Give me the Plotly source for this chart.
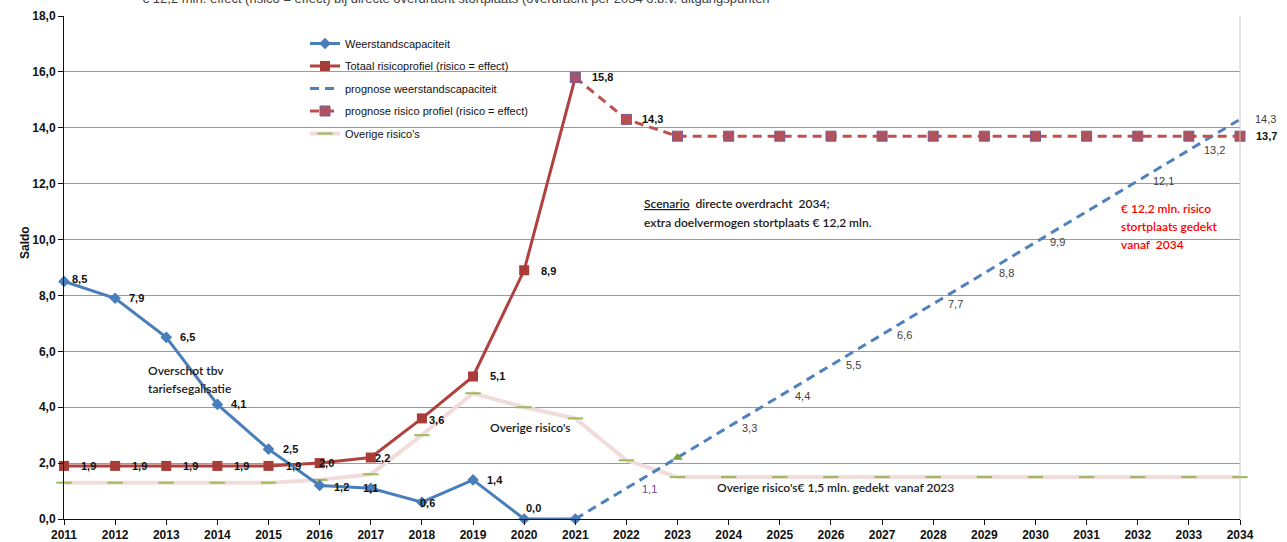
import plotly.graph_objects as go

# ---------------- data ----------------
years = list(range(2011, 2035))

wc_years = list(range(2011, 2022))
weerstandscapaciteit = [8.5, 7.9, 6.5, 4.1, 2.5, 1.2, 1.1, 0.6, 1.4, 0.0, 0.0]

rp_years = list(range(2011, 2022))
totaal_risicoprofiel = [1.9, 1.9, 1.9, 1.9, 1.9, 2.0, 2.2, 3.6, 5.1, 8.9, 15.8]

pw_years = list(range(2021, 2035))
prognose_weerstand = [0.0, 1.1, 2.2, 3.3, 4.4, 5.5, 6.6, 7.7, 8.8, 9.9, 11.0, 12.1, 13.2, 14.3]

pr_years = list(range(2021, 2035))
prognose_risico = [15.8, 14.3, 13.7, 13.7, 13.7, 13.7, 13.7, 13.7, 13.7, 13.7, 13.7, 13.7, 13.7, 13.7]

ov_years = list(range(2011, 2035))
overige_risicos = [1.3, 1.3, 1.3, 1.3, 1.3, 1.4, 1.6, 3.0, 4.5, 4.0, 3.6, 2.1,
                   1.5, 1.5, 1.5, 1.5, 1.5, 1.5, 1.5, 1.5, 1.5, 1.5, 1.5, 1.5]

# which points get a data label
wc_label_years = [2011, 2012, 2013, 2014, 2015, 2016, 2017, 2018, 2019, 2020]
rp_label_years = [2011, 2012, 2013, 2014, 2015, 2016, 2017, 2018, 2019, 2020, 2021]
pw_label_years = [2022, 2024, 2025, 2026, 2027, 2028, 2029, 2030, 2032, 2033, 2034]
pr_label_years = [2022, 2034]

# ---------------- layout geometry ----------------
W, H = 1287, 542
L, R, T, B = 64, 47, 16, 23
PW, PH = W - L - R, H - T - B

def px2paper(px, py):
    return (px - L) / PW, (H - B - py) / PH

FONT = "Liberation Sans, Arial, sans-serif"
NOTE_FONT = "Lato, Open Sans, sans-serif"

fig = go.Figure()

# Overige risico's (drawn first, at the back)
fig.add_trace(go.Scatter(
    x=ov_years, y=overige_risicos, name="Overige risico's", mode="lines+markers",
    line=dict(color="#f2dcdb", width=4),
    marker=dict(symbol="line-ew", size=11, color="#9bbb59",
                line=dict(color="#9bbb59", width=2)),
    legendrank=5, legendgroup="e", cliponaxis=False))

# Totaal risicoprofiel
fig.add_trace(go.Scatter(
    x=rp_years, y=totaal_risicoprofiel, name="Totaal risicoprofiel (risico = effect)",
    mode="lines+markers", line=dict(color="#b0413e", width=3),
    marker=dict(symbol="square", size=10, color="#a93c39"),
    legendrank=2, legendgroup="b", cliponaxis=False))

# Weerstandscapaciteit
fig.add_trace(go.Scatter(
    x=wc_years, y=weerstandscapaciteit, name="Weerstandscapaciteit",
    mode="lines+markers", line=dict(color="#4a7ebb", width=3),
    marker=dict(symbol="diamond", size=9, color="#4a7ebb"),
    legendrank=1, legendgroup="a", cliponaxis=False))

# prognose weerstandscapaciteit
fig.add_trace(go.Scatter(
    x=pw_years, y=prognose_weerstand, name="prognose weerstandscapaciteit",
    mode="lines", line=dict(color="#4f81bd", width=3, dash="9px,6px"),
    legendrank=3, legendgroup="c", cliponaxis=False))

# green triangle marker on prognose at 2023
i23 = pw_years.index(2023)
fig.add_trace(go.Scatter(
    x=[pw_years[i23]], y=[prognose_weerstand[i23]], mode="markers",
    marker=dict(symbol="triangle-up", size=9, color="#77a33a"),
    showlegend=False, cliponaxis=False))

# prognose risico profiel
fig.add_trace(go.Scatter(
    x=pr_years, y=prognose_risico, name="prognose risico profiel (risico = effect)",
    mode="lines+markers", line=dict(color="#c0504d", width=3, dash="9px,6px"),
    marker=dict(symbol="square-x", size=10, color="#c0504d",
                line=dict(color="#7b5a8e", width=1)),
    legendrank=4, legendgroup="d", cliponaxis=False))

annotations = []

def fmt(v):
    return f"{v:.1f}".replace(".", ",")

def add_labels(xs, ys, label_years, dx, overrides, bold, color, size=11):
    for yr in label_years:
        v = ys[xs.index(yr)]
        sx, sy = overrides.get(yr, (dx, 0))
        txt = fmt(v)
        if bold:
            txt = f"<b>{txt}</b>"
        annotations.append(dict(
            x=yr, y=v, xref="x", yref="y", text=txt, showarrow=False,
            xanchor="left", yanchor="middle", xshift=sx, yshift=sy,
            font=dict(family=FONT, size=size, color=color)))

add_labels(wc_years, weerstandscapaciteit, wc_label_years, 12,
           {2011: (6, 2), 2016: (12, -2), 2017: (-10, 0), 2018: (-4, -1), 2020: (0, 11)},
           True, "#111111")
add_labels(rp_years, totaal_risicoprofiel, rp_label_years, 15,
           {2016: (-3, 0), 2017: (2, 0), 2018: (5, -2), 2020: (15, -1)},
           True, "#111111")
add_labels(pw_years, prognose_weerstand, pw_label_years, 13,
           {2022: (14, -1), 2024: (11, -1), 2034: (13, 0)},
           False, "#404040")
# colour of 2022 label is purple-ish
for a in annotations:
    if a["x"] == 2022 and a["text"] == "1,1":
        a["font"]["color"] = "#5f4b8b"
add_labels(pr_years, prognose_risico, pr_label_years, 14, {}, True, "#111111")

# free text notes (pixel positions of left edge / vertical middle)
notes = [
    ("Overschot tbv", 146, 370, "#1a1a1a", 12),
    ("tariefsegalisatie", 146, 388, "#1a1a1a", 12),
    ("Overige risico's", 488, 427, "#1a1a1a", 12),
    ("<u>Scenario</u>  directe overdracht  2034;", 642, 203, "#1a1a1a", 12),
    ("extra doelvermogen stortplaats € 12,2 mln.", 642, 222, "#1a1a1a", 12),
    ("€ 12,2 mln. risico", 1119, 208, "#ff0000", 12),
    ("stortplaats gedekt", 1119, 226, "#ff0000", 12),
    ("vanaf  2034", 1119, 244, "#ff0000", 12),
    ("Overige risico's€ 1,5 mln. gedekt  vanaf 2023", 715, 487, "#1a1a1a", 12),
]
for txt, px, py, col, fs in notes:
    xp, yp = px2paper(px, py)
    annotations.append(dict(
        x=xp, y=yp, xref="paper", yref="paper", text=txt, showarrow=False,
        xanchor="left", yanchor="middle",
        font=dict(family=NOTE_FONT, size=fs, color=col, weight=600)))

# clipped title at the very top (cut off by the top edge, as in the source)
xp, yp = px2paper(140, -1)
annotations.append(dict(
    x=xp, y=yp, xref="paper", yref="paper", showarrow=False,
    xanchor="left", yanchor="middle",
    text="€ 12,2 mln. effect (risico = effect) bij directe overdracht stortplaats (overdracht per 2034 o.b.v. uitgangspunten",
    font=dict(family=FONT, size=13, color="#404040")))

# y-axis title
xp, yp = px2paper(16, 243)
annotations.append(dict(
    x=xp, y=yp, xref="paper", yref="paper", showarrow=False, textangle=-90,
    text="<b>Saldo</b>", font=dict(family=FONT, size=12, color="#111111")))

lx, ly = px2paper(305, 29)

fig.update_layout(
    template="none",
    width=W, height=H,
    margin=dict(l=L, r=R, t=T, b=B, pad=0, autoexpand=False),
    paper_bgcolor="white", plot_bgcolor="white",
    separators=",.",
    showlegend=True,
    legend=dict(x=lx, y=ly, xanchor="left", yanchor="top",
                bgcolor="rgba(0,0,0,0)", traceorder="grouped", tracegroupgap=3.5,
                font=dict(family="Liberation Sans Narrow, Liberation Sans, Arial", size=11,
                          color="#111111"),
                itemwidth=30),
    annotations=annotations,
    shapes=[dict(type="line", xref="paper", yref="paper", x0=1, x1=1, y0=0, y1=1,
                 line=dict(color="#c8c8c8", width=1))],
    xaxis=dict(range=[2011, 2034], tick0=2011, dtick=1, showgrid=False, automargin=False,
               showline=True, linecolor="#111111", linewidth=1,
               ticks="outside", ticklen=5, tickcolor="#111111", zeroline=False,
               tickfont=dict(family=FONT, size=12, color="#111111", weight="bold")),
    yaxis=dict(range=[0, 18], tick0=0, dtick=2, tickformat=".1f", automargin=False,
               showgrid=True, gridcolor="#9a9a9a", gridwidth=1,
               showline=True, linecolor="#111111", linewidth=1,
               ticks="outside", ticklen=5, tickcolor="#111111", zeroline=False,
               tickfont=dict(family=FONT, size=12, color="#111111", weight="bold")),
)

fig.write_html(
    "out.html",
    config={"displayModeBar": False},
    post_script="document.body.style.margin='0';document.body.style.overflow='hidden';",
)
